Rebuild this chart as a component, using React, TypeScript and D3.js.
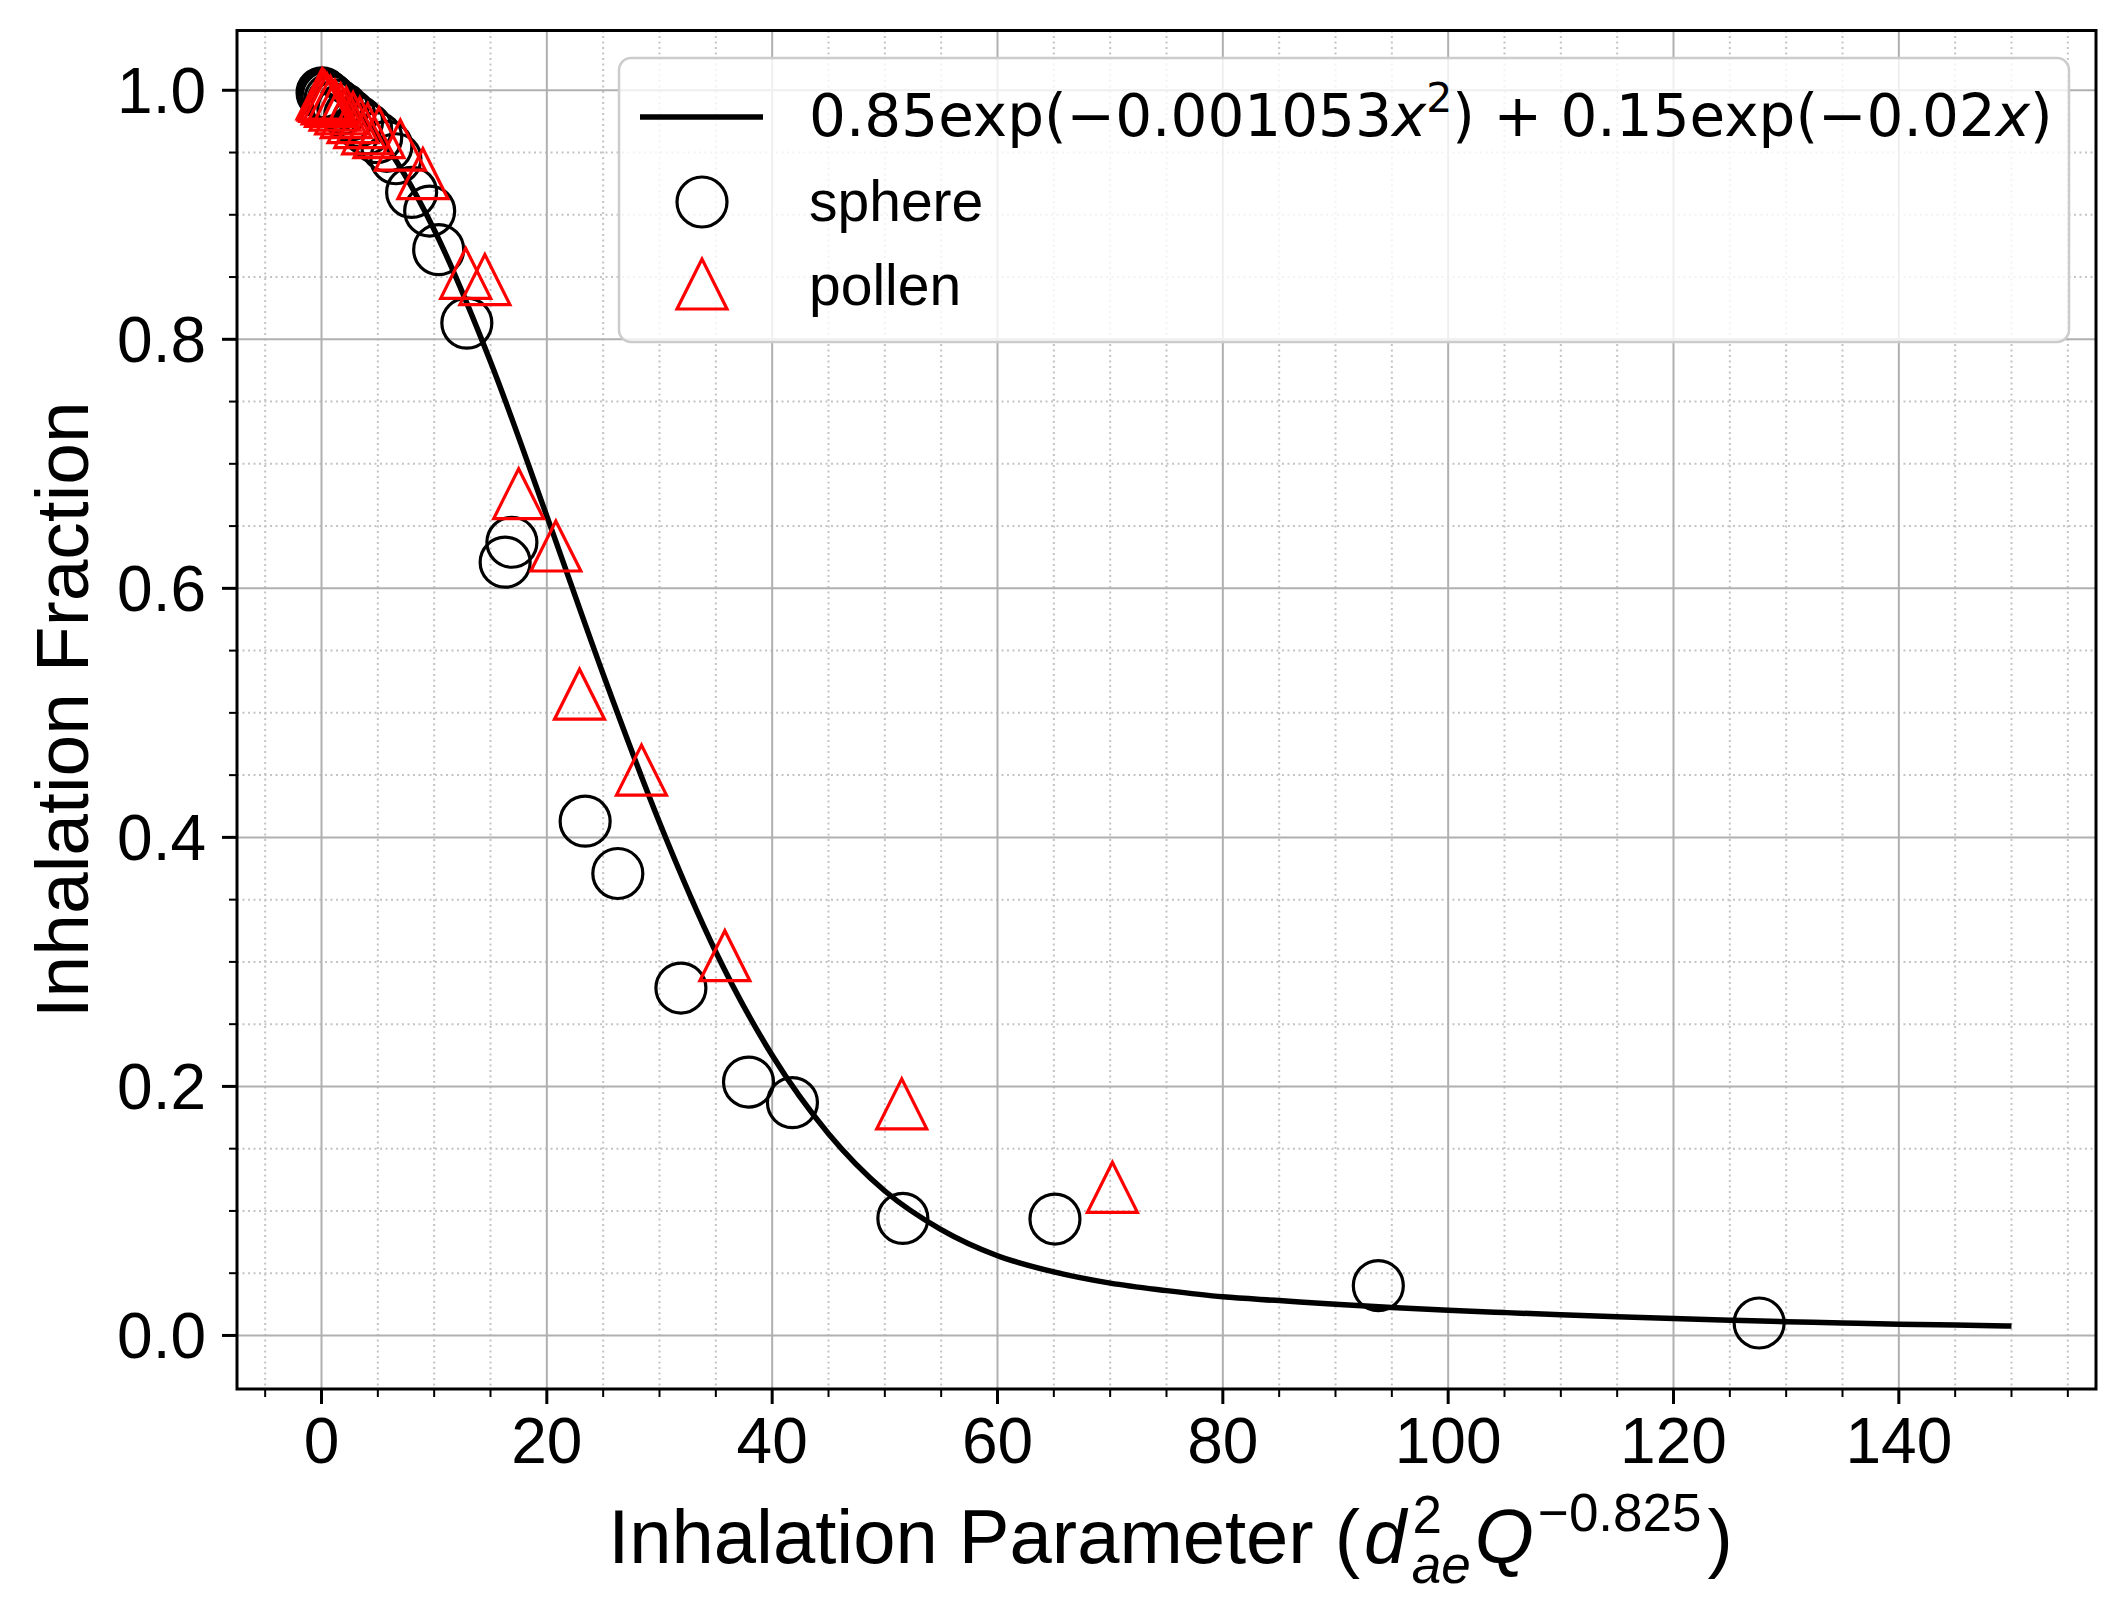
import React from 'react';
import * as d3 from 'd3';

// Fit curve at every 5 units of x
const curveX = [0, 5, 10, 15, 20, 25, 30, 35, 40, 45, 50, 55, 60, 65, 70, 75, 80, 85, 90, 95, 100, 105, 110, 115, 120, 125, 130, 135, 140, 145, 150];
const curveY = [1.0, 0.964, 0.888, 0.782, 0.658, 0.531, 0.412, 0.308, 0.225, 0.162, 0.116, 0.085, 0.064, 0.051, 0.042, 0.036, 0.031, 0.028, 0.025, 0.0225, 0.0203, 0.0184, 0.0166, 0.015, 0.0136, 0.0123, 0.0111, 0.0101, 0.0091, 0.0083, 0.0075];

// sphere measurements
const sphereX = [0.05, 0.15, 0.3, 0.5, 0.75, 1.0, 1.4, 1.9, 2.5, 3.2, 4.0, 4.9, 5.8, 6.6, 8.0, 9.6, 10.4, 12.9, 16.3, 16.9, 23.4, 26.3, 31.9, 37.9, 41.8, 51.6, 65.1, 93.8, 127.6];
const sphereY = [0.998, 0.997, 0.996, 0.995, 0.993, 0.991, 0.988, 0.985, 0.98, 0.975, 0.969, 0.962, 0.955, 0.945, 0.918, 0.903, 0.872, 0.813, 0.621, 0.637, 0.413, 0.371, 0.279, 0.2035, 0.187, 0.094, 0.0935, 0.04, 0.01];

// pollen measurements
const pollenX = [0.05, 0.15, 0.3, 0.5, 0.8, 1.2, 1.7, 2.2, 2.8, 3.4, 4.1, 5.1, 7.0, 9.0, 12.8, 14.5, 17.5, 20.8, 22.9, 28.4, 35.8, 51.5, 70.2];
const pollenY = [0.997, 0.996, 0.995, 0.993, 0.991, 0.988, 0.985, 0.982, 0.978, 0.974, 0.969, 0.966, 0.956, 0.933, 0.853, 0.848, 0.676, 0.634, 0.515, 0.454, 0.305, 0.186, 0.119];

const xMajor = [0, 20, 40, 60, 80, 100, 120, 140];
const yMajor = [0, 0.2, 0.4, 0.6, 0.8, 1.0];

const W = 2127;
const H = 1619;
const plot = { left: 237, right: 2096, top: 30.5, bottom: 1389 };

const sans = '"Liberation Sans", Arial, sans-serif';
const math = '"DejaVu Sans", sans-serif';

const App: React.FC = () => {
  const x = d3.scaleLinear().domain([-7.5, 157.5]).range([plot.left, plot.right]);
  const y = d3.scaleLinear().domain([-0.043, 1.048]).range([plot.bottom, plot.top]);

  const xMinor = d3.range(-5, 160, 5).filter((v) => v % 20 !== 0);
  const yMinor = d3.range(1, 21).map((i) => +(i * 0.05).toFixed(2)).filter((v) => Math.round(v * 100) % 20 !== 0);

  const line = d3.line<number>()
    .x((_d, i) => x(curveX[i]))
    .y((d) => y(d))
    .curve(d3.curveMonotoneX);

  const tri = (s: number) => `M0,${-s}L${-s},${s}L${s},${s}Z`;

  return (
    <>
      <style>{`body{margin:0}`}</style>
      <svg width={W} height={H} style={{ display: 'block', background: '#fff' }}>
        <defs>
          <clipPath id="plotclip">
            <rect x={plot.left} y={plot.top} width={plot.right - plot.left} height={plot.bottom - plot.top} />
          </clipPath>
        </defs>

        {/* grid */}
        <g>
          {xMinor.map((v) => (
            <line key={'xm' + v} x1={x(v)} x2={x(v)} y1={plot.top} y2={plot.bottom}
              stroke="#c4c4c4" strokeWidth={2} strokeDasharray="2,3.5" />
          ))}
          {yMinor.map((v) => (
            <line key={'ym' + v} x1={plot.left} x2={plot.right} y1={y(v)} y2={y(v)}
              stroke="#c4c4c4" strokeWidth={2} strokeDasharray="2,3.5" />
          ))}
          {xMajor.map((v) => (
            <line key={'xg' + v} x1={x(v)} x2={x(v)} y1={plot.top} y2={plot.bottom}
              stroke="#b0b0b0" strokeWidth={2} />
          ))}
          {yMajor.map((v) => (
            <line key={'yg' + v} x1={plot.left} x2={plot.right} y1={y(v)} y2={y(v)}
              stroke="#b0b0b0" strokeWidth={2} />
          ))}
        </g>

        <g clipPath="url(#plotclip)">
          <path d={line(curveY) || ''} fill="none" stroke="#000" strokeWidth={5.5} />
          {sphereX.map((v, i) => (
            <circle key={'s' + i} cx={x(v)} cy={y(sphereY[i])} r={25}
              fill="none" stroke="#000" strokeWidth={3.2} />
          ))}
          {pollenX.map((v, i) => (
            <path key={'p' + i} transform={`translate(${x(v)},${y(pollenY[i])})`} d={tri(25)}
              fill="none" stroke="#ff0000" strokeWidth={3.2} strokeLinejoin="miter" />
          ))}
        </g>

        {/* frame */}
        <rect x={plot.left} y={plot.top} width={plot.right - plot.left} height={plot.bottom - plot.top}
          fill="none" stroke="#000" strokeWidth={3} />

        {/* x ticks */}
        {xMinor.map((v) => (
          <line key={'xt' + v} x1={x(v)} x2={x(v)} y1={plot.bottom} y2={plot.bottom + 8} stroke="#000" strokeWidth={2} />
        ))}
        {xMajor.map((v) => (
          <g key={'xT' + v}>
            <line x1={x(v)} x2={x(v)} y1={plot.bottom} y2={plot.bottom + 15} stroke="#000" strokeWidth={3} />
            <text x={x(v)} y={1463} textAnchor="middle" fontFamily={sans} fontSize={64}>{v}</text>
          </g>
        ))}

        {/* y ticks */}
        {yMinor.map((v) => (
          <line key={'yt' + v} x1={plot.left - 8} x2={plot.left} y1={y(v)} y2={y(v)} stroke="#000" strokeWidth={2} />
        ))}
        {yMajor.map((v) => (
          <g key={'yT' + v}>
            <line x1={plot.left - 15} x2={plot.left} y1={y(v)} y2={y(v)} stroke="#000" strokeWidth={3} />
            <text x={206} y={y(v)} dy="0.36em" textAnchor="end" fontFamily={sans} fontSize={64}>{v.toFixed(1)}</text>
          </g>
        ))}

        {/* axis labels */}
        <text x={(plot.left + plot.right) / 2 + 4} y={1563} textAnchor="middle" fontFamily={sans} fontSize={76}>
          Inhalation Parameter (<tspan fontStyle="italic" dx={4}>d</tspan>
          <tspan fontSize={53} dx={6} dy={-30}>2</tspan>
          <tspan fontSize={53} fontStyle="italic" dx={-30} dy={50}>ae</tspan>
          <tspan fontStyle="italic" dx={4} dy={-20}>Q</tspan>
          <tspan fontSize={53} dx={4} dy={-32}>−0.825</tspan>
          <tspan dx={6} dy={32}>)</tspan>
        </text>
        <text transform={`translate(88,${(plot.top + plot.bottom) / 2}) rotate(-90)`} textAnchor="middle"
          fontFamily={sans} fontSize={75}>Inhalation Fraction</text>

        {/* legend */}
        <g>
          <rect x={619} y={58} width={1450} height={284} rx={12} fill="#fff" fillOpacity={0.8}
            stroke="#cccccc" strokeWidth={2.5} />
          <line x1={640} x2={763} y1={117} y2={117} stroke="#000" strokeWidth={5.5} />
          <text x={809} y={136} fontFamily={math} fontSize={58}>
            0.85exp(−0.001053<tspan fontStyle="italic">x</tspan>
            <tspan fontSize={41} dy={-24}>2</tspan>
            <tspan dy={24}>) + 0.15exp(−0.02</tspan>
            <tspan fontStyle="italic">x</tspan>)
          </text>
          <circle cx={702} cy={202} r={25} fill="none" stroke="#000" strokeWidth={3.2} />
          <text x={809} y={221} fontFamily={sans} fontSize={57}>sphere</text>
          <path transform="translate(702,284)" d={tri(25)} fill="none" stroke="#ff0000" strokeWidth={3.2} />
          <text x={809} y={305} fontFamily={sans} fontSize={57}>pollen</text>
        </g>
      </svg>
    </>
  );
};

export default App;
